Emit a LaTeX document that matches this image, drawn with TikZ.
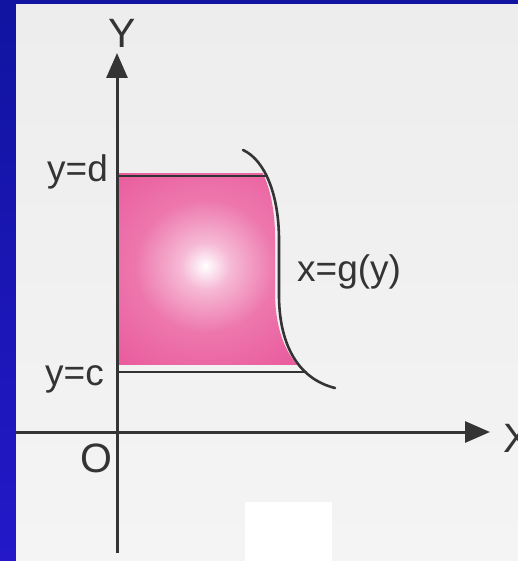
\documentclass[tikz,border=0pt]{standalone}
\usepackage{fontspec}
\setmainfont{Liberation Sans}
\usetikzlibrary{arrows.meta}
\definecolor{bluetop}{RGB}{16,20,160}
\definecolor{bluebot}{RGB}{36,24,200}
\definecolor{paper}{RGB}{237,237,237}
\definecolor{paperlow}{RGB}{244,244,244}
\definecolor{inkc}{RGB}{52,52,52}
\definecolor{pinkc}{RGB}{232,80,150}
\pgfdeclareradialshading{pinkglow}{\pgfpoint{0bp}{0bp}}{%
  color(0bp)=(white);
  color(5bp)=(pinkc!40!white);
  color(14bp)=(pinkc!78!white);
  color(28bp)=(pinkc!95!white);
  color(50bp)=(pinkc)}
\tikzset{
  axisline/.style={draw=inkc, line width=3pt, -{Triangle[length=25pt,width=21pt]}},
  boundline/.style={draw=inkc, line width=2.6pt},
  lbl/.style={inner sep=0pt, text=inkc, font=\fontsize{37}{40}\selectfont},
  biglbl/.style={inner sep=0pt, text=inkc, font=\fontsize{41}{44}\selectfont}
}
\begin{document}
\begin{tikzpicture}[x=1pt,y=-1pt]
\useasboundingbox (0,0) rectangle (518,561);
\clip (0,0) rectangle (518,561);
% blue frame and paper
\shade[top color=bluetop, bottom color=bluebot] (0,0) rectangle (518,561);
\shade[top color=paper, bottom color=paperlow] (16,5) rectangle (518,561);
\fill[white] (245,502) rectangle (332,561);
% pink region
\begin{scope}
  \clip (119,174) rectangle (400,364);
  \shade[shading=pinkglow]
    (80,147) -- (239,147) .. controls (261,157) and (275,192) .. (275,237)
    -- (275,292) .. controls (275,337) and (291,375) .. (331,385)
    -- (80,385) -- cycle;
\end{scope}
% coordinates
\coordinate (O) at (117,432);
\coordinate (ybot) at (117,553);
\coordinate (ytop) at (117,53);
\coordinate (xleft) at (16,432);
\coordinate (xright) at (490,432);
\coordinate (d0) at (117,176);
\coordinate (d1) at (268,176);
\coordinate (c0) at (117,372);
\coordinate (c1) at (307,372);
\coordinate (g0) at (243,150);
\coordinate (g1) at (279,240);
\coordinate (g2) at (279,295);
\coordinate (g3) at (335,388);
% boundary lines
\draw[boundline] (d0) -- (d1);
\draw[boundline] (c0) -- (c1);
\draw[boundline, line cap=round] (g0) .. controls (265,160) and (279,195) .. (g1)
  -- (g2) .. controls (279,340) and (295,378) .. (g3);
% axes
\draw[axisline] (ybot) -- (ytop);
\draw[axisline] (xleft) -- (xright);
% labels
\node[biglbl] (Ylab) at (122,33) {Y};
\node[biglbl, anchor=base west] (Xlab) at (503,452) {X};
\node[biglbl] (Olab) at (96,458) {O};
\node[lbl, anchor=base west] (dlab) at (47,182) {y=d};
\node[lbl, anchor=base west] (clab) at (45,385) {y=c};
\node[lbl, anchor=base west] (glab) at (297,281) {x=g(y)};
\end{tikzpicture}
\end{document}
